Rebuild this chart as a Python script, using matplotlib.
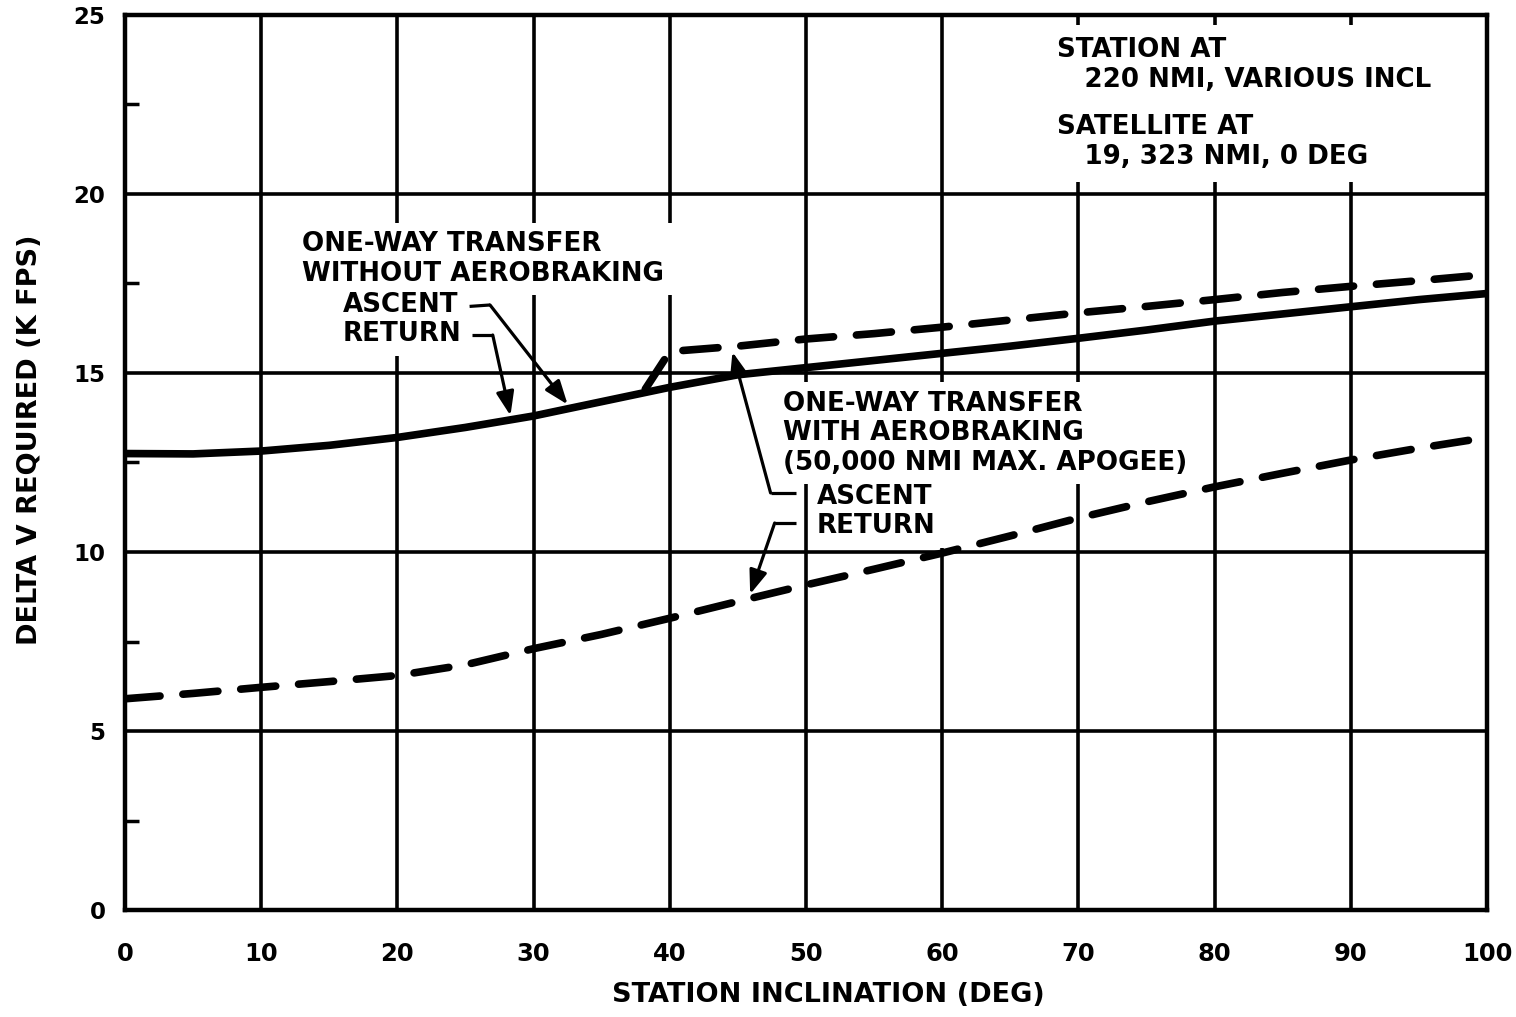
import numpy as np
import matplotlib
matplotlib.use("Agg")
import matplotlib.pyplot as plt
from matplotlib.ticker import MultipleLocator

# Station inclination (deg)
incl = [0, 5, 10, 15, 20, 25, 30, 35, 40, 45, 50, 55, 60, 65, 70, 75, 80, 85, 90, 95, 100]

# One-way transfer without aerobraking (ascent and return coincide), K FPS
dv_no_aero = [12.75, 12.74, 12.82, 12.98, 13.20, 13.48, 13.80, 14.20, 14.60, 14.95, 15.15,
              15.35, 15.55, 15.75, 15.97, 16.20, 16.45, 16.65, 16.85, 17.05, 17.22]

# One-way transfer with aerobraking, ascent leg
incl_aero_ascent = [38.2, 40, 45, 50, 55, 60, 65, 70, 75, 80, 85, 90, 95, 100]
dv_aero_ascent = [14.55, 15.60, 15.75, 15.95, 16.10, 16.28, 16.48, 16.68, 16.86, 17.05,
                  17.25, 17.42, 17.58, 17.75]

# One-way transfer with aerobraking, return leg
dv_aero_return = [5.90, 6.05, 6.22, 6.38, 6.55, 6.85, 7.30, 7.70, 8.15, 8.62, 9.08,
                  9.52, 9.97, 10.45, 10.95, 11.40, 11.82, 12.20, 12.57, 12.90, 13.20]

x_ticks = [0, 10, 20, 30, 40, 50, 60, 70, 80, 90, 100]
y_ticks = [0, 5, 10, 15, 20, 25]

BOLD = dict(family="DejaVu Sans", fontweight="bold")

fig = plt.figure(figsize=(15.16, 10.17), dpi=100)
ax = fig.add_axes([125 / 1516, 1 - 910 / 1017, (1487 - 125) / 1516, (910 - 15) / 1017])

ax.set_xlim(0, 100)
ax.set_ylim(0, 25)
ax.set_xticks(x_ticks)
ax.set_yticks(y_ticks)
ax.yaxis.set_minor_locator(MultipleLocator(2.5))
ax.set_xticklabels([str(v) for v in x_ticks], fontsize=17.5, **BOLD)
ax.set_yticklabels([str(v) for v in y_ticks], fontsize=16.5, **BOLD)
ax.tick_params(axis="both", which="major", length=0)
ax.tick_params(axis="x", which="major", pad=23)
ax.tick_params(axis="y", which="major", pad=14)
ax.tick_params(axis="y", which="minor", direction="in", length=10, width=2.5)

ax.set_axisbelow(True)
ax.grid(True, which="major", color="black", linewidth=2.6)
for s in ax.spines.values():
    s.set_linewidth(3.2)

# Curves
lw = 5.5
ax.plot(incl, dv_no_aero, color="black", lw=lw, solid_capstyle="round", zorder=3)
ax.plot(incl_aero_ascent, dv_aero_ascent, color="black", lw=lw, dashes=(4.6, 3.0),
        dash_capstyle="round", zorder=3)
ax.plot(incl, dv_aero_return, color="black", lw=lw, dashes=(4.6, 3.0),
        dash_capstyle="round", zorder=3)

# Text blocks on white backgrounds that break the grid
box = dict(facecolor="white", edgecolor="none", pad=6)
txt = dict(fontsize=18.8, ha="left", va="center", zorder=2, bbox=box, linespacing=1.18, **BOLD)
ax.text(13.0, 18.18, "ONE-WAY TRANSFER\nWITHOUT AEROBRAKING", **txt)
ax.text(16.0, 16.49, "ASCENT\nRETURN", **txt)
ax.text(68.4, 23.6, "STATION AT\n   220 NMI, VARIOUS INCL",
        **{**txt, "bbox": dict(facecolor="white", edgecolor="none", pad=9)})
ax.text(68.4, 21.45, "SATELLITE AT\n   19, 323 NMI, 0 DEG",
        **{**txt, "bbox": dict(facecolor="white", edgecolor="none", pad=9)})
ax.text(48.3, 13.32, "ONE-WAY TRANSFER\nWITH AEROBRAKING\n(50,000 NMI MAX. APOGEE)", **txt)
ax.text(50.8, 11.13, "ASCENT\nRETURN", **txt)


def leader(points, tip_x, curve_x, curve_y, dy):
    """Draw a bent leader from a label to a curve, ending in a filled arrowhead."""
    tip = (tip_x, float(np.interp(tip_x, curve_x, curve_y)) + dy)
    xs = [p[0] for p in points]
    ys = [p[1] for p in points]
    ax.plot(xs, ys, color="black", lw=2.3, solid_capstyle="butt", zorder=4)
    ax.annotate("", xy=tip, xytext=points[-1],
                arrowprops=dict(arrowstyle="-|>,head_length=0.8,head_width=0.3",
                                mutation_scale=18, lw=2.3, color="black",
                                shrinkA=0, shrinkB=0), zorder=4)


leader([(25.3, 16.86), (26.8, 16.9)], 32.5, incl, dv_no_aero, 0.12)
leader([(25.5, 16.06), (27.0, 16.06)], 28.3, incl, dv_no_aero, 0.12)
leader([(49.3, 11.65), (47.4, 11.65)], 44.6, incl_aero_ascent, dv_aero_ascent, -0.15)
leader([(49.3, 10.81), (47.7, 10.81)], 45.9, incl, dv_aero_return, 0.12)

fig.text(828 / 1516, 1 - 995 / 1017, "STATION INCLINATION (DEG)", fontsize=19.5,
         ha="center", va="center", **BOLD)
fig.text(30 / 1516, 1 - 440 / 1017, "DELTA V REQUIRED (K FPS)", fontsize=19.5,
         ha="center", va="center", rotation=90, **BOLD)

fig.savefig("out.png", dpi=100, facecolor="white")
